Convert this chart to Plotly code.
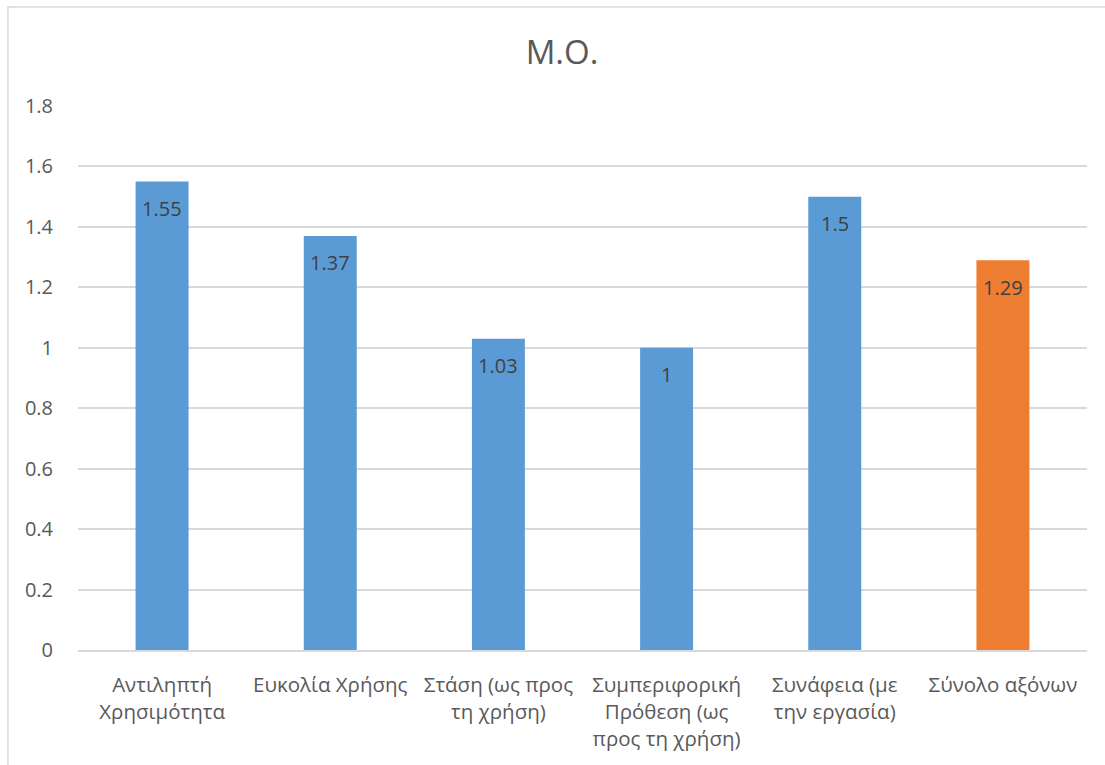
import plotly.graph_objects as go

categories = ["Αντιληπτή<br>Χρησιμότητα", "Ευκολία Χρήσης", "Στάση (ως προς<br>τη χρήση)",
              "Συμπεριφορική<br>Πρόθεση (ως<br>προς τη χρήση)", "Συνάφεια (με<br>την εργασία)", "Σύνολο αξόνων"]
values = [1.55, 1.37, 1.03, 1.0, 1.5, 1.29]
labels = ["1.55", "1.37", "1.03", "1", "1.5", "1.29"]
colors = ["#5B9BD5", "#5B9BD5", "#5B9BD5", "#5B9BD5", "#5B9BD5", "#ED7D31"]
yticks = [0, 0.2, 0.4, 0.6, 0.8, 1, 1.2, 1.4, 1.6, 1.8]
yticklabels = ["0", "0.2", "0.4", "0.6", "0.8", "1", "1.2", "1.4", "1.6", "1.8"]

FONT = "Open Sans"

fig = go.Figure()
fig.add_trace(go.Bar(x=categories, y=values, marker=dict(color=colors, line=dict(width=0)),
                     hoverinfo="skip"))

for c, v, t in zip(categories, values, labels):
    fig.add_annotation(x=c, y=v, text=t, showarrow=False, yanchor="middle", yshift=-27,
                       font=dict(family=FONT, size=20, color="#404040"))

fig.add_shape(type="rect", xref="paper", yref="paper", x0=-0.0694, x1=1.2, y0=-0.4, y1=1.182,
              line=dict(color="#D9D9D9", width=1.5), fillcolor="rgba(0,0,0,0)", layer="below")

fig.update_layout(
    width=1105, height=765,
    margin=dict(l=78, r=18, t=106, b=115),
    paper_bgcolor="white", plot_bgcolor="white",
    bargap=0.685,
    showlegend=False,
    title=dict(text="Μ.Ο.", x=562 / 1105, xanchor="center", y=1 - 52 / 765, yanchor="middle",
               font=dict(family=FONT, size=33, color="#595959")),
    font=dict(family=FONT, color="#595959"),
)
fig.update_xaxes(showgrid=False, showline=True, linecolor="#D9D9D9", linewidth=1.5,
                 tickfont=dict(family=FONT, size=20.5, color="#595959"), ticks="outside",
                 ticklen=16, tickcolor="rgba(0,0,0,0)")
fig.update_yaxes(range=[0, 1.8], tickvals=yticks, ticktext=yticklabels, showgrid=True,
                 gridcolor="#D9D9D9", gridwidth=1.5, zeroline=False, showline=False,
                 tickfont=dict(family=FONT, size=20, color="#595959"), ticks="outside",
                 ticklen=20, tickcolor="rgba(0,0,0,0)")

fig.write_html("out.html")
